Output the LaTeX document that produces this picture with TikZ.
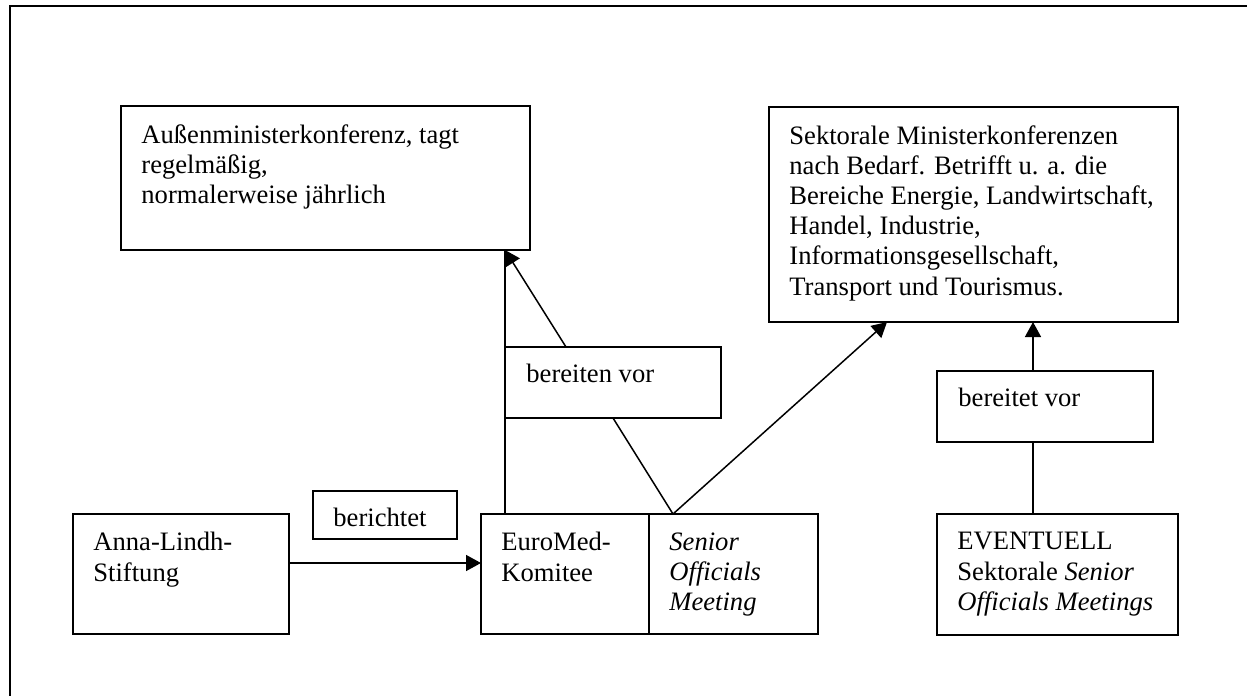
\documentclass[tikz,border=0pt]{standalone}
\usepackage{fontspec}
\setmainfont{Liberation Serif}
\usetikzlibrary{positioning,arrows.meta}

\begin{document}
\begin{tikzpicture}[x=0.5pt,y=-0.5pt,
    box/.style={draw,line width=0.75pt,inner sep=0pt,outer sep=0pt,anchor=north west},
    txt/.style={inner sep=0pt,anchor=north west,align=left,font=\fontsize{13.3}{15.1}\selectfont},
    arr/.style={line width=0.75pt,-{Triangle[length=7.5pt,width=8pt]}},
    link/.style={line width=0.75pt}]
    \useasboundingbox (0,0) rectangle (1247,696);
    % Frame
    \draw [line width=1.3pt] (1247,6) -- (10,6) -- (10,696);

    % Conferences
    \node [box,minimum width=204.5pt,minimum height=72pt] (aussen) at (121,106) {};
    \node [txt,below right=9pt and 10pt of aussen.north west] (aussen-t) {Außenministerkonferenz, tagt\\regelmäßig,\\normalerweise jährlich};
    \node [box,minimum width=204.5pt,minimum height=107.5pt] (sektor) at (769,107) {};
    \node [txt,below right=9pt and 10pt of sektor.north west] (sektor-t) {Sektorale Ministerkonferenzen\\nach Bedarf. Betrifft u. a. die\\Bereiche Energie, Landwirtschaft,\\Handel, Industrie,\\Informationsgesellschaft,\\Transport und Tourismus.};

    % Labels
    \node [box,minimum width=108pt,minimum height=35.5pt] (bvor) at (505,347) {};
    \node [txt,below right=8.5pt and 10.5pt of bvor.north west] (bvor-t) {bereiten vor};
    \node [box,minimum width=108pt,minimum height=35.5pt] (btvor) at (937,371) {};
    \node [txt,below right=8.5pt and 10.5pt of btvor.north west] (btvor-t) {bereitet vor};
    \node [box,minimum width=72pt,minimum height=24pt] (bericht) at (313,491) {};
    \node [txt,below right=8.5pt and 10pt of bericht.north west] (bericht-t) {berichtet};

    % Bodies
    \node [box,minimum width=108pt,minimum height=60pt] (anna) at (73,514) {};
    \node [txt,below right=9pt and 10pt of anna.north west] (anna-t) {Anna-Lindh-\\Stiftung};
    \node [box,minimum width=84pt,minimum height=60pt] (euromed) at (481,514) {};
    \node [txt,below right=9pt and 10pt of euromed.north west] (euromed-t) {EuroMed-\\Komitee};
    \node [box,minimum width=84.5pt,minimum height=60pt,right=0pt of euromed] (senior) {};
    \node [txt,below right=9pt and 10pt of senior.north west] (senior-t) {\textit{Senior}\\\textit{Officials}\\\textit{Meeting}};
    \node [box,minimum width=120.5pt,minimum height=60.5pt] (event) at (937,514) {};
    \node [txt,below right=9pt and 10pt of event.north west] (event-t) {EVENTUELL\\Sektorale \textit{Senior}\\\textit{Officials Meetings}};

    % Connections
    \coordinate (tip) at ([xshift=12pt]euromed.north west |- aussen.south);
    \draw [arr] ([yshift=5.5pt]anna.east) -- ([yshift=5.5pt]euromed.west);
    \draw [link] ([xshift=12pt]euromed.north west) -- (tip);
    \draw [arr] ([xshift=30.5pt]bvor.north west) -- (tip);
    \draw [link] (bvor.south) -- ([xshift=12pt]senior.north west);
    \draw [arr] ([xshift=12pt]senior.north west) -- ([xshift=59pt]sektor.south west);
    \draw [link] ([xshift=48pt]event.north west) -- ([xshift=48pt]btvor.south west);
    \draw [arr] ([xshift=48pt]btvor.north west) -- ([xshift=48pt]btvor.north west |- sektor.south);
\end{tikzpicture}
\end{document}
